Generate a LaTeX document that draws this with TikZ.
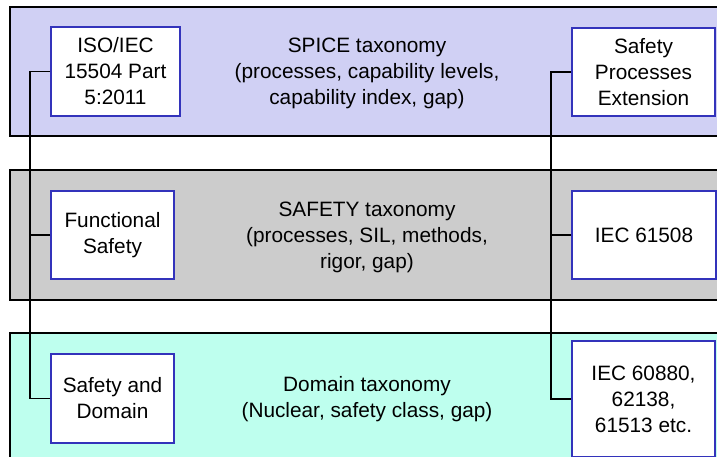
\documentclass[tikz,border=0pt]{standalone}
\usepackage{fontspec}
\setmainfont{Liberation Sans}
\usetikzlibrary{positioning}
\definecolor{spiceband}{RGB}{208,208,244}
\definecolor{safetyband}{RGB}{204,204,204}
\definecolor{domainband}{RGB}{190,255,238}
\definecolor{boxblue}{RGB}{51,51,187}

\begin{document}
\begin{tikzpicture}[x=1pt,y=-1pt,
  band/.style={draw=black,line width=2pt},
  stdbox/.style={draw=boxblue,line width=2pt,fill=white,align=center,
    font=\fontsize{20.8}{26}\selectfont,inner sep=0pt},
  taxtext/.style={align=center,font=\fontsize{20.8}{26}\selectfont},
  link/.style={draw=black,line width=1.2pt}]
\useasboundingbox (0,0) rectangle (717,457);
\clip (0,0) rectangle (717,457);

% bands
\draw[band,fill=spiceband] (10,7) rectangle (740,136);
\draw[band,fill=safetyband] (10,170) rectangle (740,300);
\draw[band,fill=domainband] (10,333) rectangle (740,480);

% centre texts
\node[taxtext] (spice) at (367,73.5) {SPICE taxonomy\\(processes, capability levels,\\capability index, gap)};
\node[taxtext] (safety) at (367,237.5) {SAFETY taxonomy\\(processes, SIL, methods,\\rigor, gap)};
\node[taxtext] (domain) at (367,399.5) {Domain taxonomy\\(Nuclear, safety class, gap)};

% left column
\node[stdbox,minimum width=129,minimum height=89] (iso) at (115.5,71.5) {ISO/IEC\\15504 Part\\5:2011};
\node[stdbox,minimum width=123,minimum height=88] (func) at (112.5,235) {Functional\\Safety};
\node[stdbox,minimum width=123,minimum height=89] (sdom) at (112.5,398.5) {Safety and\\Domain};

% right column
\node[stdbox,minimum width=143,minimum height=88] (spe) at (643.5,72) {Safety\\Processes\\Extension};
\node[stdbox,minimum width=144,minimum height=88] (iec1) at (644,235) {IEC 61508};
\node[stdbox,minimum width=143,minimum height=116] (iec2) at (643.5,399) {IEC 60880,\\62138,\\61513 etc.};

% connectors
\coordinate (lbus) at (30,0);
\coordinate (rbus) at (551,0);
\draw[link] (iso.west) -- (iso.west -| lbus) |- (sdom.west);
\draw[link] (func.west) -- (func.west -| lbus);
\draw[link] (spe.west) -- (spe.west -| rbus) |- (iec2.west);
\draw[link] (iec1.west) -- (iec1.west -| rbus);

\end{tikzpicture}
\end{document}
